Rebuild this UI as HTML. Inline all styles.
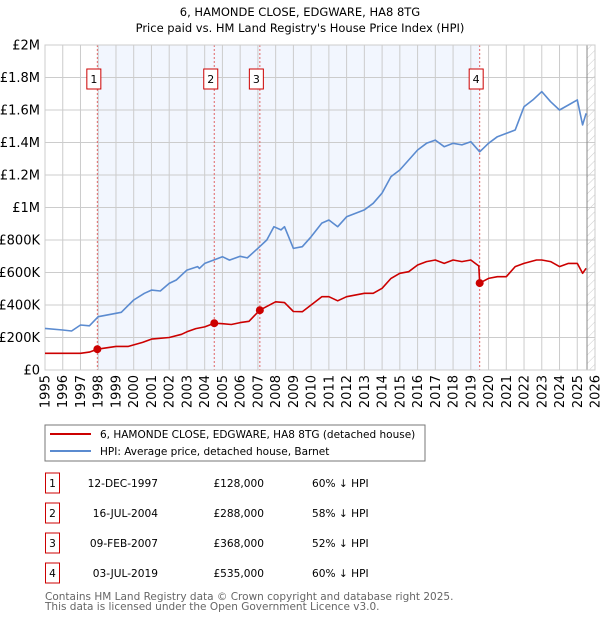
<!DOCTYPE html>
<html><head><meta charset="utf-8"><style>
body{margin:0;background:#fff;width:600px;height:620px;overflow:hidden;font-family:"DejaVu Sans","Liberation Sans",sans-serif}
svg text{font-family:"DejaVu Sans","Liberation Sans",sans-serif}
</style></head><body>
<svg id="chart" width="600" height="620">
<defs><pattern id="hatch" width="6" height="6" patternUnits="userSpaceOnUse" patternTransform="rotate(45)"><line x1="0" y1="0" x2="0" y2="6" stroke="#ccc" stroke-width="1"/></pattern></defs>
<text x="300" y="16" text-anchor="middle" font-size="11.5">6, HAMONDE CLOSE, EDGWARE, HA8 8TG</text>
<text x="300" y="32" text-anchor="middle" font-size="11.5">Price paid vs. HM Land Registry's House Price Index (HPI)</text>
<g id="plot"></g>
<rect x="45" y="425" width="380" height="36" fill="#fff" stroke="#777"/>
<line x1="50" y1="434" x2="91" y2="434" stroke="#cc0000" stroke-width="2"/>
<text x="100" y="438" font-size="10.5">6, HAMONDE CLOSE, EDGWARE, HA8 8TG (detached house)</text>
<line x1="50" y1="451" x2="91" y2="451" stroke="#5b8bd0" stroke-width="2"/>
<text x="100" y="455" font-size="10.5">HPI: Average price, detached house, Barnet</text>
<g id="table" font-size="10.6"></g>
<text x="45" y="600" font-size="10.5" fill="#666">Contains HM Land Registry data © Crown copyright and database right 2025.</text>
<text x="45" y="610" font-size="10.5" fill="#666">This data is licensed under the Open Government Licence v3.0.</text>
</svg>
<script>
const hpiYears=[1995,1996,1996.5,1997,1997.5,1998,1999,1999.3,2000,2000.6,2001,2001.5,2002,2002.4,2003,2003.6,2003.7,2004,2004.5,2005,2005.4,2006,2006.4,2007,2007.5,2007.9,2008.3,2008.5,2009,2009.5,2010,2010.6,2011,2011.5,2012,2013,2013.5,2014,2014.5,2015,2015.5,2016,2016.5,2017,2017.5,2018,2018.5,2019,2019.5,2020,2020.5,2021,2021.5,2022,2022.5,2023,2023.5,2024,2024.5,2025,2025.3,2025.5];
const hpiValues=[256,246,240,277,272,328,349,355,431,472,492,486,533,554,615,636,625,656,676,697,676,700,690,749,800,882,862,882,748,759,820,904,923,882,943,985,1026,1089,1190,1231,1292,1354,1395,1415,1374,1395,1385,1405,1343,1395,1436,1456,1477,1620,1662,1713,1651,1600,1631,1662,1508,1580];
const redYears=[1995,1997,1997.5,1997.95,1999,1999.7,2000.5,2001,2002,2002.7,2003,2003.5,2004,2004.54,2005,2005.5,2006,2006.5,2007.1,2008,2008.5,2009,2009.5,2010,2010.6,2011,2011.5,2012,2013,2013.5,2014,2014.5,2015,2015.5,2016,2016.5,2017,2017.5,2018,2018.5,2019,2019.45,2019.5,2020,2020.5,2021,2021.5,2022,2022.7,2023,2023.5,2024,2024.5,2025,2025.3,2025.5];
const redValues=[103,103,110,128,145,145,170,190,200,220,235,255,265,288,285,280,292,300,368,420,415,360,359,400,451,451,426,451,472,472,503,564,595,605,646,667,677,656,677,667,677,640,535,564,574,574,636,656,677,677,667,636,656,656,595,626];
const saleYears=[1997.95,2004.54,2007.11,2019.5];
const salePrices=[128,288,368,535];
const saleLabels=["1","2","3","4"];
const saleDates=["12-DEC-1997","16-JUL-2004","09-FEB-2007","03-JUL-2019"];
const salePriceText=["£128,000","£288,000","£368,000","£535,000"];
const saleHpiText=["60% ↓ HPI","58% ↓ HPI","52% ↓ HPI","60% ↓ HPI"];
const yTicks=[0,200,400,600,800,1000,1200,1400,1600,1800,2000];
const yTickLabels=["£0","£200K","£400K","£600K","£800K","£1M","£1.2M","£1.4M","£1.6M","£1.8M","£2M"];
const xTicks=[1995,1996,1997,1998,1999,2000,2001,2002,2003,2004,2005,2006,2007,2008,2009,2010,2011,2012,2013,2014,2015,2016,2017,2018,2019,2020,2021,2022,2023,2024,2025,2026];
const dataEnd=2025.55;

const NS="http://www.w3.org/2000/svg";
const X0=45,X1=595,Y0=370,Y1=45;
const xs=y=>X0+(y-1995)/(2026-1995)*(X1-X0);
const ys=v=>Y0-v/2000*(Y0-Y1);
const plot=document.getElementById('plot');
function mk(tag,attrs,parent){const e=document.createElementNS(NS,tag);for(const k in attrs)e.setAttribute(k,attrs[k]);(parent||plot).appendChild(e);return e;}
let e;
e=mk('rect',{x:X0,y:Y1,width:X1-X0,height:Y0-Y1,fill:'#fff'});
e=mk('rect',{x:xs(saleYears[0]),y:Y1,width:xs(saleYears[3])-xs(saleYears[0]),height:Y0-Y1,fill:'#f2f6fe'});


e=mk('rect',{x:xs(dataEnd),y:Y1,width:X1-xs(dataEnd),height:Y0-Y1,fill:'url(#hatch)'});


yTicks.forEach((t,i)=>{
 mk('line',{x1:X0,x2:X1,y1:ys(t),y2:ys(t),stroke:'#ccc','stroke-width':1});
 e=mk('text',{x:X0-5,y:ys(t)+4.5,'text-anchor':'end','font-size':13});
 e.textContent=yTickLabels[i];
 
 
});
xTicks.forEach(t=>{
 mk('line',{x1:xs(t),x2:xs(t),y1:Y1,y2:Y0,stroke:'#ccc','stroke-width':1});
 e=mk('text',{x:0,y:0,'text-anchor':'end','font-size':13,transform:`translate(${xs(t)+4.5},${Y0+5}) rotate(-90)`});
 e.textContent=t;
 
 
});
mk('line',{x1:xs(dataEnd),x2:xs(dataEnd),y1:Y1,y2:Y0,stroke:'#888','stroke-width':1});
saleYears.forEach((s,i)=>{
 e=mk('line',{x1:xs(s),x2:xs(s),y1:Y1,y2:Y0,stroke:'#e06666','stroke-width':1,'stroke-dasharray':'2,2'});
 
 
 e=mk('rect',{x:xs(s)-10.5,y:69,width:14,height:20,fill:'#fff',stroke:'#cc0000','stroke-width':1});
 
 
 e=mk('text',{x:xs(s)-3.5,y:83,'text-anchor':'middle','font-size':11});
 e.textContent=saleLabels[i];
});
function path(yrs,vals,color,name){
 const d=yrs.map((y,i)=>(i?'L':'M')+xs(y).toFixed(1)+','+ys(vals[i]).toFixed(1)).join('');
 const p=mk('path',{d:d,fill:'none',stroke:color,'stroke-width':1.6,'stroke-linejoin':'round'});
 
 
}
mk('rect',{x:X0,y:Y1,width:X1-X0,height:Y0-Y1,fill:'none',stroke:'#ccc'});
path(hpiYears,hpiValues,'#5b8bd0','hpi-line');
path(redYears,redValues,'#cc0000','property-price-line');
saleYears.forEach((s,i)=>{
 e=mk('circle',{cx:xs(s),cy:ys(salePrices[i]),r:4,fill:'#cc0000'});
 
 
});
const tbl=document.getElementById('table');
const rowY=[483,513,543,573];
saleLabels.forEach((l,i)=>{
 const y=rowY[i];
 e=mk('rect',{x:45.5,y:y-10,width:14,height:20,fill:'#fff',stroke:'#cc0000'},tbl);
 
 
 e=mk('text',{x:52.5,y:y+4,'text-anchor':'middle'},tbl);e.textContent=l;
 e=mk('text',{x:158,y:y+4,'text-anchor':'end'},tbl);e.textContent=saleDates[i];
 
 
 e=mk('text',{x:264,y:y+4,'text-anchor':'end'},tbl);e.textContent=salePriceText[i];
 
 
 e=mk('text',{x:312,y:y+4},tbl);e.textContent=saleHpiText[i];
 
 
});
</script>
</body></html>
